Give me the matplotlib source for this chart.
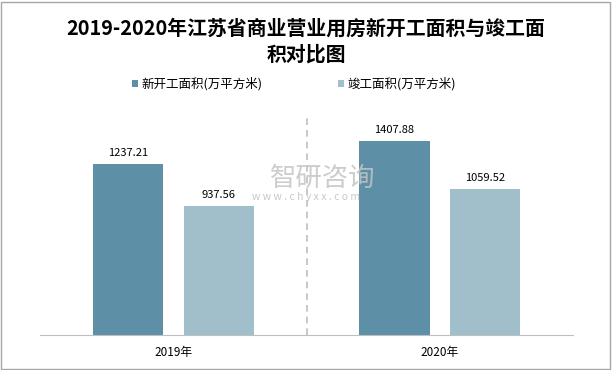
import numpy as np
import matplotlib.pyplot as plt
from matplotlib.patches import Rectangle

plt.rcParams['font.family'] = ['Noto Sans CJK SC', 'DejaVu Sans']

# Data
years = ['2019年', '2020年']
new_start = [1237.21, 1407.88]
completed = [937.56, 1059.52]
series_names = ['新开工面积(万平方米)', '竣工面积(万平方米)']
colors = ['#5d90a7', '#a0bfcb']

fig = plt.figure(figsize=(6.12, 3.7), dpi=100)
ax = fig.add_axes([0.0654, 0.0946, 0.871, 0.596])

x = np.arange(len(years))
w = 0.263
b1 = ax.bar(x - 0.17, new_start, w, color=colors[0], label=series_names[0])
b2 = ax.bar(x + 0.17, completed, w, color=colors[1], label=series_names[1])

for bars, vals in ((b1, new_start), (b2, completed)):
    for rect, v in zip(bars, vals):
        ax.text(rect.get_x() + rect.get_width() / 2, v + 45, f'{v:.2f}',
                ha='center', va='bottom', fontsize=8, color='black')

ax.set_xlim(-0.5, 1.5)
ax.set_ylim(0, 1600)
ax.set_xticks(x)
ax.set_xticklabels(years, fontsize=8.5)
ax.tick_params(axis='x', length=0, pad=8)
ax.set_yticks([])
for side in ('top', 'right', 'left'):
    ax.spines[side].set_visible(False)
ax.spines['bottom'].set_color('#bfbfbf')
ax.axvline(0.5, color='#bfbfbf', linestyle=(0, (4, 3)), linewidth=1.2)

# watermark
fig.text(0.528, 0.518, '智研咨询', fontsize=19, color='#c4c4c4', ha='center', va='center', alpha=0.85)
fig.text(0.5, 0.467, 'w w w . c h y x x . c o m', fontsize=7.5, color='#c8c8c8', ha='center', va='center')

fig.text(0.5, 0.888, '2019-2020年江苏省商业营业用房新开工面积与竣工面\n积对比图',
         ha='center', va='center', fontsize=14.3, fontweight='bold', linespacing=1.3)

fig.legend(handles=[b1, b2], labels=series_names, loc='center', bbox_to_anchor=(0.48, 0.773),
           ncol=2, frameon=False, fontsize=9, handlelength=0.55, handleheight=0.55,
           handletextpad=0.25, columnspacing=6)

fig.patches.append(Rectangle((0.002, 0.003), 0.994, 0.992, transform=fig.transFigure,
                             fill=False, edgecolor='#a6a6a6', linewidth=1))

fig.savefig('out.png', dpi=100)
